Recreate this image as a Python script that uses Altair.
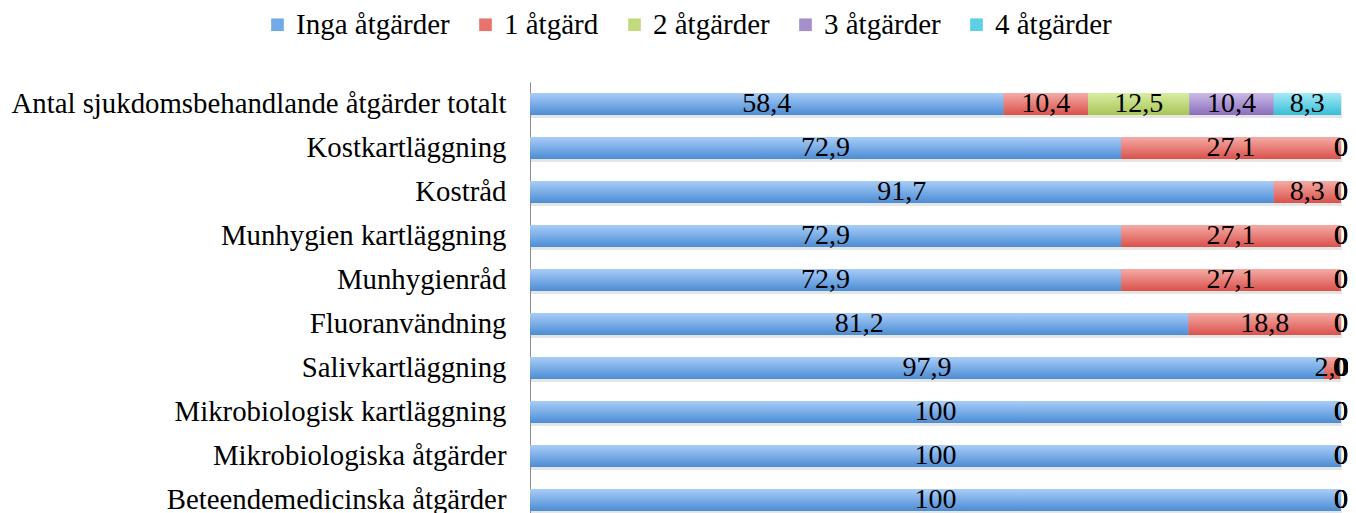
import altair as alt
import pandas as pd

categories = [
    "Antal sjukdomsbehandlande åtgärder totalt",
    "Kostkartläggning",
    "Kostråd ",
    "Munhygien kartläggning",
    "Munhygienråd ",
    "Fluoranvändning",
    "Salivkartläggning",
    "Mikrobiologisk kartläggning",
    "Mikrobiologiska åtgärder",
    "Beteendemedicinska åtgärder",
]
series = ["Inga åtgärder", "1 åtgärd", "2 åtgärder", "3 åtgärder", "4 åtgärder"]
inga = [58.4, 72.9, 91.7, 72.9, 72.9, 81.2, 97.9, 100, 100, 100]
en = [10.4, 27.1, 8.3, 27.1, 27.1, 18.8, 2.0, 0, 0, 0]
tva = [12.5, 0, 0, 0, 0, 0, 0, 0, 0, 0]
tre = [10.4, 0, 0, 0, 0, 0, 0, 0, 0, 0]
fyra = [8.3, 0, 0, 0, 0, 0, 0, 0, 0, 0]

colors = ["#74a9e8", "#e8736c", "#c2da7c", "#a48fcc", "#5fcfe6"]
grad_top = ["#a9cdf8", "#f5aba6", "#d9eca4", "#cbbbe8", "#a4ebf8"]
grad_bot = ["#4c8cd4", "#d9514b", "#a8c655", "#8a6dbb", "#38bdd7"]


def fmt(v):
    if v == 0:
        return "0"
    if v == 100:
        return "100"
    return f"{v:.1f}".replace(".", ",")


rows = []
for s_i, (s, vals) in enumerate(zip(series, [inga, en, tva, tre, fyra])):
    for c, v in zip(categories, vals):
        rows.append({"category": c, "series": s, "order": s_i, "value": v, "label": fmt(v)})
df = pd.DataFrame(rows)

FONT = "Liberation Serif"

y_enc = alt.Y(
    "category:N",
    sort=categories,
    scale=alt.Scale(paddingInner=0.5, paddingOuter=0.25),
    axis=alt.Axis(
        title=None,
        ticks=False,
        domain=True,
        domainColor="#8c8c8c",
        domainWidth=1,
        labelFont=FONT,
        labelFontSize=28.8,
        labelColor="#000000",
        labelPadding=24,
        labelLimit=600,
    ),
)
x_scale = alt.Scale(domain=[0, 100], nice=False, zero=True)

base = alt.Chart(df).transform_stack(
    stack="value",
    as_=["x0", "x1"],
    groupby=["category"],
    sort=[alt.SortField("order", order="ascending")],
)

shadow = alt.Chart(df).mark_bar(color="#8a8a8a", opacity=0.22, yOffset=3, xOffset=1).encode(
    x=alt.X("sum(value):Q", scale=x_scale, axis=None),
    y=y_enc,
)

bars = base.mark_bar().encode(
    x=alt.X("x0:Q", scale=x_scale, axis=None),
    x2="x1:Q",
    y=y_enc,
    color=alt.Color(
        "series:N",
        sort=series,
        scale=alt.Scale(domain=series, range=colors),
        legend=alt.Legend(
            title=None,
            orient="none",
            direction="horizontal",
            legendX=-267,
            legendY=-72,
            symbolType="square",
            symbolSize=160,
            symbolStrokeWidth=0,
            labelFont=FONT,
            labelFontSize=29,
            labelColor="#000000",
            columnPadding=21,
            symbolOffset=0,
            labelOffset=4,
        ),
    ),
)

overlays = []
for i, s in enumerate(series):
    overlays.append(
        base.transform_filter(alt.datum.order == i)
        .mark_bar(
            fill=alt.Gradient(
                gradient="linear",
                stops=[
                    alt.GradientStop(color=grad_top[i], offset=0),
                    alt.GradientStop(color=grad_bot[i], offset=1),
                ],
                x1=0, x2=0, y1=0, y2=1,
            )
        )
        .encode(x=alt.X("x0:Q", scale=x_scale, axis=None), x2="x1:Q", y=y_enc)
    )

labels = base.transform_calculate(mid="(datum.x0 + datum.x1) / 2").mark_text(
    font=FONT, fontSize=28, color="#000000", align="center", baseline="middle"
).encode(
    x=alt.X("mid:Q", scale=x_scale, axis=None),
    y=y_enc,
    text="label:N",
)

chart = alt.layer(shadow, bars, *overlays, labels).properties(
    width=811,
    height=440,
    background="#ffffff",
    autosize=alt.AutoSizeParams(type="none"),
    padding={"left": 522, "top": 74, "right": 7, "bottom": 0},
).configure_view(strokeWidth=0, stroke="transparent")

chart.save("out.html", embed_options={"renderer": "svg", "actions": False})
